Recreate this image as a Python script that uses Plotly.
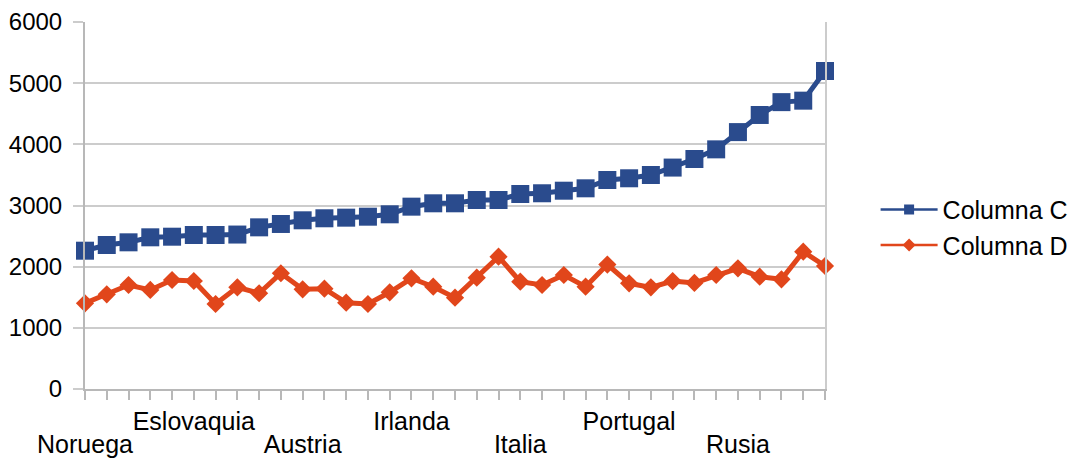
import plotly.graph_objects as go

# Category positions (35 countries) and the labels shown on the axis
n_points = 35
positions = list(range(n_points))
label_positions_upper = [5, 15, 25]
labels_upper = ["Eslovaquia", "Irlanda", "Portugal"]
label_positions_lower = [0, 10, 20, 30]
labels_lower = ["Noruega", "Austria", "Italia", "Rusia"]

columna_c = [2261, 2354, 2398, 2480, 2490, 2518, 2518, 2525, 2643, 2698,
             2758, 2791, 2801, 2817, 2856, 2981, 3036, 3036, 3090, 3090,
             3188, 3200, 3242, 3281, 3417, 3445, 3499, 3620, 3760, 3918,
             4200, 4480, 4690, 4714, 5199]
columna_d = [1401, 1548, 1700, 1619, 1782, 1766, 1390, 1662, 1565, 1892,
             1630, 1640, 1411, 1390, 1581, 1810, 1673, 1493, 1820, 2163,
             1754, 1700, 1864, 1673, 2035, 1728, 1662, 1765, 1735, 1864,
             1973, 1836, 1793, 2245, 2011]

y_ticks = [0, 1000, 2000, 3000, 4000, 5000, 6000]

BLUE = "#2a4b8d"
ORANGE = "#e1461b"
GRID = "#cccccc"
AXIS = "#b8b8b8"
FONT = "Liberation Sans, Arial, sans-serif"
TEXT = "#000000"

fig = go.Figure()

fig.add_trace(go.Scatter(
    x=positions, y=columna_c, mode="lines+markers", name="Columna C",
    line=dict(color=BLUE, width=5),
    marker=dict(symbol="square", size=18, color=BLUE),
    cliponaxis=False, showlegend=False,
))
fig.add_trace(go.Scatter(
    x=positions, y=columna_d, mode="lines+markers", name="Columna D",
    line=dict(color=ORANGE, width=5),
    marker=dict(symbol="diamond", size=14, color=ORANGE),
    cliponaxis=False, showlegend=False,
))

# legend entries with lighter symbols
fig.add_trace(go.Scatter(
    x=[None], y=[None], mode="lines+markers", name="Columna C",
    line=dict(color=BLUE, width=2.5),
    marker=dict(symbol="square", size=10, color=BLUE),
))
fig.add_trace(go.Scatter(
    x=[None], y=[None], mode="lines+markers", name="Columna D",
    line=dict(color=ORANGE, width=2.5),
    marker=dict(symbol="diamond", size=10, color=ORANGE),
))

x_range = [positions[0], positions[-1]]

fig.update_layout(
    width=1077, height=459,
    margin=dict(l=85, r=252, t=22, b=70),
    paper_bgcolor="white", plot_bgcolor="white",
    font=dict(family=FONT, size=25, color=TEXT),
    showlegend=True,
    legend=dict(
        xref="container", yref="container",
        x=0.813, y=0.505, xanchor="left", yanchor="middle",
        font=dict(size=25, color=TEXT),
        itemwidth=57, tracegroupgap=0,
        bgcolor="rgba(0,0,0,0)",
    ),
    xaxis=dict(
        range=x_range, tickmode="array",
        tickvals=positions,
        ticktext=[labels_upper[label_positions_upper.index(p)] if p in label_positions_upper else "" for p in positions],
        ticks="outside", ticklen=9, tickcolor=AXIS, tickwidth=1.5,
        showline=True, linecolor=AXIS, linewidth=2,
        showgrid=False, zeroline=False,
        mirror=False, tickangle=0,
        ticklabelstandoff=0, automargin=False,
    ),
    xaxis2=dict(
        range=x_range, overlaying="x", side="bottom", anchor="y",
        tickmode="array", tickvals=label_positions_lower, ticktext=labels_lower,
        ticks="", showline=False, showgrid=False, zeroline=False, tickangle=0,
        ticklabelstandoff=38, automargin=False,
    ),
    yaxis=dict(
        range=[0, 6000], tickmode="array", tickvals=y_ticks,
        ticktext=[str(v) for v in y_ticks],
        ticks="outside", ticklen=10, tickcolor=GRID, tickwidth=1.5,
        showline=True, linecolor=AXIS, linewidth=2,
        showgrid=True, gridcolor=GRID, gridwidth=1.5,
        zeroline=False, tickfont=dict(size=24),
        ticklabelstandoff=6, automargin=False,
    ),
    yaxis2=dict(
        range=[0, 6000], overlaying="y", side="right", anchor="x",
        showticklabels=False, ticks="", showgrid=False, zeroline=False,
        showline=True, linecolor=GRID, linewidth=2, automargin=False,
    ),
)

# invisible trace to activate the secondary axes
fig.add_trace(go.Scatter(x=[None], y=[None], xaxis="x2", yaxis="y2",
                         showlegend=False, hoverinfo="skip"))

fig.write_html("out.html")
